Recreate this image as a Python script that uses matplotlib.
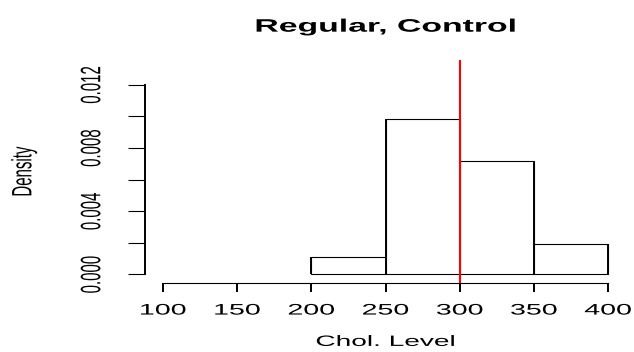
import matplotlib
matplotlib.use("Agg")
import matplotlib.pyplot as plt
from matplotlib.patheffects import AbstractPathEffect
from matplotlib.transforms import Affine2D
from matplotlib.ticker import FixedLocator, FuncFormatter

# Histogram of cholesterol levels (density scale)
bin_edges = [200, 250, 300, 350, 400]
densities = [0.00108, 0.00984, 0.00720, 0.00193]
reference_level = 300

x_ticks = [100, 150, 200, 250, 300, 350, 400]
y_ticks = [0.000, 0.002, 0.004, 0.006, 0.008, 0.010, 0.012]
y_labelled = [0.000, 0.004, 0.008, 0.012]

title = "Regular, Control"
x_label = "Chol. Level"
y_label = "Density"


class HStretch(AbstractPathEffect):
    """Widen glyph outlines horizontally about their own centre."""

    def __init__(self, sx):
        super().__init__()
        self.sx = sx

    def draw_path(self, renderer, gc, tpath, affine, rgbFace=None):
        ext = tpath.get_extents(affine)
        cx = 0.5 * (ext.x0 + ext.x1)
        aff = affine + Affine2D().translate(-cx, 0).scale(self.sx, 1).translate(cx, 0)
        renderer.draw_path(gc, tpath, aff, rgbFace)


STRETCH = [HStretch(1.87)]

plt.rcParams["font.family"] = ["Liberation Sans", "DejaVu Sans"]

fig = plt.figure(figsize=(6.34, 3.52), dpi=100)
ax = fig.add_axes([145.2 / 634, (352 - 283) / 352, 480.6 / 634, 223 / 352])

lefts = bin_edges[:-1]
widths = [b - a for a, b in zip(bin_edges[:-1], bin_edges[1:])]
ax.bar(lefts, densities, width=widths, align="edge", facecolor="white",
       edgecolor="black", linewidth=0.8, zorder=2)
# heavier vertical edges between bins
edge_tops = []
for i, e in enumerate(bin_edges):
    left_h = densities[i - 1] if i > 0 else 0
    right_h = densities[i] if i < len(densities) else 0
    edge_tops.append(max(left_h, right_h))
ax.vlines(bin_edges, 0, edge_tops, colors="black", linewidth=1.4, zorder=3)

ax.axvline(reference_level, color="#ff0000", linewidth=1.5, zorder=4)

ax.set_xlim(88, 412)
ax.set_ylim(-0.00055, 0.01357)

for s in ("top", "right"):
    ax.spines[s].set_visible(False)
ax.spines["bottom"].set_bounds(x_ticks[0], x_ticks[-1])
ax.spines["left"].set_bounds(y_ticks[0], y_ticks[-1])
ax.spines["bottom"].set_linewidth(0.8)
ax.spines["left"].set_linewidth(1.4)

ax.xaxis.set_major_locator(FixedLocator(x_ticks))
ax.tick_params(axis="x", direction="out", length=6.3, width=1.4, pad=8.5,
               labelsize=11, colors="black")
ax.yaxis.set_major_locator(FixedLocator(y_ticks))
ax.yaxis.set_major_formatter(FuncFormatter(
    lambda v, p: f"{v:.3f}" if any(abs(v - t) < 1e-9 for t in y_labelled) else ""))
ax.tick_params(axis="y", direction="out", length=12.2, width=0.8, pad=26.3,
               labelsize=10.8, colors="black")
for lab in ax.get_yticklabels():
    lab.set_rotation(90)
    lab.set_ha("center")
    lab.set_va("center")
for lab in ax.get_xticklabels() + ax.get_yticklabels():
    lab.set_path_effects(STRETCH)

t = ax.set_title(title, fontsize=13, fontweight="bold", pad=20.4)
t.set_path_effects(STRETCH)
xl = ax.set_xlabel(x_label, fontsize=10.8, labelpad=12.5)
xl.set_path_effects(STRETCH)
yl = ax.set_ylabel(y_label, fontsize=10.8, va="center")
ax.yaxis.set_label_coords((24 - 145.2) / 480.6, 0.5)
yl.set_path_effects(STRETCH)

fig.savefig("out.png", dpi=100)
